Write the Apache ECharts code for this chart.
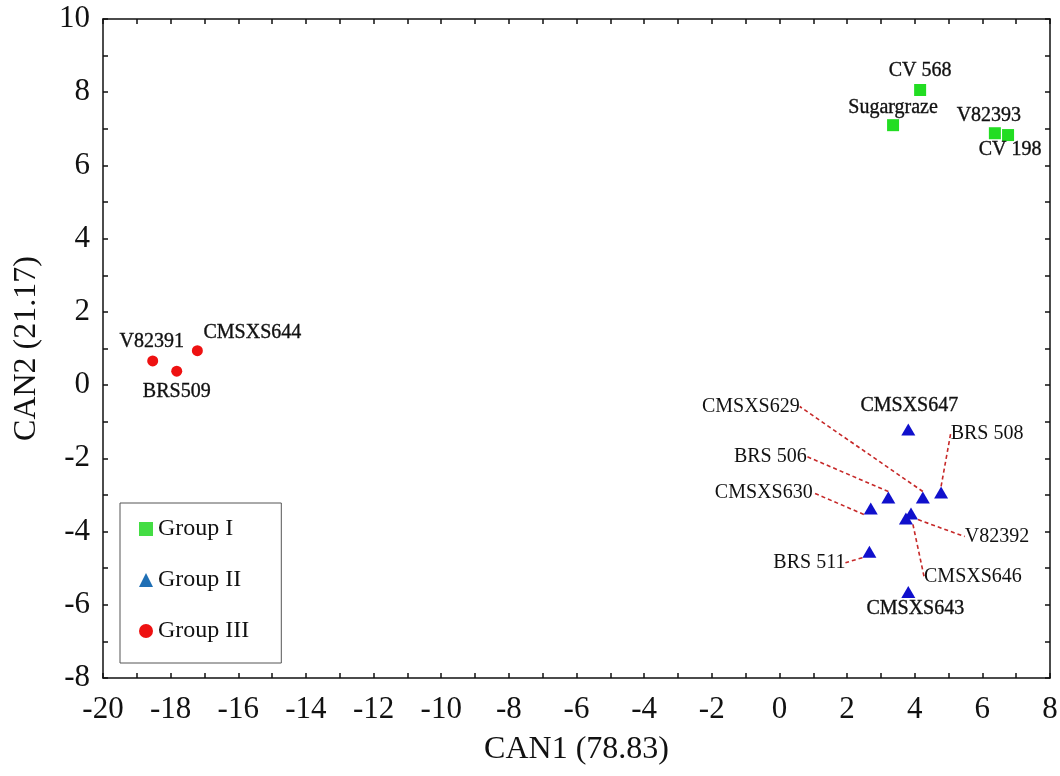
<!DOCTYPE html>
<html>
<head>
<meta charset="utf-8">
<script src="https://cdn.jsdelivr.net/npm/echarts@6/dist/echarts.min.js"></script>
<style>
html,body{margin:0;padding:0;background:#fff;}
#chart{width:1060px;height:776px;}
</style>
</head>
<body>
<div id="chart"></div>
<script>
// ---- Data ----
const groupINames = ['CV 568', 'Sugargraze', 'V82393', 'CV 198'];
const groupIX = [4.16, 3.36, 6.37, 6.76];
const groupIY = [8.06, 7.10, 6.88, 6.83];

const groupIINames = ['CMSXS647', 'CMSXS629', 'BRS 508', 'BRS 506', 'CMSXS630', 'V82392', 'CMSXS646', 'BRS 511', 'CMSXS643'];
const groupIIX = [3.81, 4.24, 4.78, 3.22, 2.70, 3.89, 3.74, 2.66, 3.81];
const groupIIY = [-1.21, -3.07, -2.93, -3.07, -3.37, -3.51, -3.64, -4.55, -5.65];

const groupIIINames = ['V82391', 'BRS509', 'CMSXS644'];
const groupIIIX = [-18.53, -17.82, -17.21];
const groupIIIY = [0.66, 0.38, 0.94];

const seriesNames = ['Group I', 'Group II', 'Group III'];
const xTitle = 'CAN1 (78.83)';
const yTitle = 'CAN2 (21.17)';
const xRange = [-20, 8];
const yRange = [-8, 10];

// ---- Label placement (pixel offsets of label centre from its point) ----
const labelPlacement = {
  'CV 568': { d: [0, -19], strong: true },
  'Sugargraze': { d: [0, -17], strong: true },
  'V82393': { d: [-6, -17], strong: true },
  'CV 198': { d: [2, 15], strong: true },
  'V82391': { d: [-1, -19], strong: true },
  'BRS509': { d: [0, 21], strong: true },
  'CMSXS644': { d: [55, -18], strong: true },
  'CMSXS647': { d: [1, -24], strong: true },
  'CMSXS629': { d: [-172, -91], line: true },
  'BRS 508': { d: [46, -59], line: true },
  'BRS 506': { d: [-118, -41], line: true },
  'CMSXS630': { d: [-107, -16], line: true },
  'V82392': { d: [86, 23], line: true },
  'CMSXS646': { d: [67, 58], line: true },
  'BRS 511': { d: [-60, 11], line: true },
  'CMSXS643': { d: [7, 17], strong: true }
};

function buildData(names, xs, ys) {
  return names.map(function (n, i) {
    const p = labelPlacement[n] || { d: [0, -18] };
    const item = { name: n, value: [xs[i], ys[i]] };
    if (p.line) {
      item.labelLine = { show: true, lineStyle: { color: '#c62828', width: 1.6, type: [4, 3], opacity: 1 } };
    }
    if (p.strong) {
      item.label = { textBorderColor: '#111', textBorderWidth: 0.35 };
    }
    return item;
  });
}

const allSeriesNames = [groupINames, groupIINames, groupIIINames];

function labelLayoutFn(params) {
  const names = allSeriesNames[params.seriesIndex];
  const n = names[params.dataIndex];
  const p = labelPlacement[n] || { d: [0, -18] };
  return {
    x: params.rect.x + params.rect.width / 2 + p.d[0],
    y: params.rect.y + params.rect.height / 2 + p.d[1],
    align: 'center',
    verticalAlign: 'middle'
  };
}

const font = 'Liberation Serif';
const labelBase = {
  show: true,
  formatter: '{b}',
  fontFamily: font,
  fontSize: 20,
  color: '#111',
  opacity: 1
};

const chart = echarts.init(document.getElementById('chart'), null, { renderer: 'canvas' });

function evenLabel(v) { return (v % 2 === 0) ? String(v) : ''; }

const axisCommonLine = { show: true, onZero: false, lineStyle: { color: '#111', width: 1.5 } };
const tickInside = { show: true, inside: true, length: 5, lineStyle: { color: '#111', width: 1.5 } };

chart.setOption({
  animation: false,
  backgroundColor: '#fff',
  grid: { left: 103, right: 10, top: 19, bottom: 98, containLabel: false, outerBoundsMode: 'none' },
  legend: {
    orient: 'vertical',
    left: 120,
    top: 503,
    padding: [14, 32, 20, 19],
    itemGap: 27,
    itemWidth: 14,
    itemHeight: 14,
    borderColor: '#555',
    borderWidth: 1,
    textStyle: { fontFamily: font, fontSize: 24, color: '#111' },
    data: [
      { name: seriesNames[0], icon: 'rect', itemStyle: { color: '#44dd44', opacity: 1 } },
      { name: seriesNames[1], icon: 'triangle', itemStyle: { color: '#1f6fb5', opacity: 1 } },
      { name: seriesNames[2], icon: 'circle', itemStyle: { color: '#ee1111', opacity: 1 } }
    ]
  },
  xAxis: [
    {
      type: 'value', min: xRange[0], max: xRange[1], interval: 1,
      position: 'bottom',
      name: xTitle, nameLocation: 'middle', nameGap: 56,
      nameTextStyle: { fontFamily: font, fontSize: 32, color: '#111' },
      axisLine: axisCommonLine, axisTick: tickInside,
      axisLabel: { formatter: evenLabel, fontFamily: font, fontSize: 31, color: '#111', margin: 16 },
      splitLine: { show: false }
    },
    {
      type: 'value', min: xRange[0], max: xRange[1], interval: 1,
      position: 'top',
      axisLine: axisCommonLine, axisTick: tickInside,
      axisLabel: { show: false }, splitLine: { show: false }
    }
  ],
  yAxis: [
    {
      type: 'value', min: yRange[0], max: yRange[1], interval: 1,
      position: 'left',
      name: yTitle, nameLocation: 'middle', nameGap: 60, nameRotate: 90,
      nameTextStyle: { fontFamily: font, fontSize: 32, color: '#111' },
      axisLine: axisCommonLine, axisTick: tickInside,
      axisLabel: { formatter: evenLabel, fontFamily: font, fontSize: 31, color: '#111', margin: 13 },
      splitLine: { show: false }
    },
    {
      type: 'value', min: yRange[0], max: yRange[1], interval: 1,
      position: 'right',
      axisLine: axisCommonLine, axisTick: tickInside,
      axisLabel: { show: false }, splitLine: { show: false }
    }
  ],
  series: [
    {
      name: seriesNames[0], type: 'scatter', symbol: 'rect', symbolSize: 12,
      itemStyle: { color: '#22dd22', opacity: 1 },
      data: buildData(groupINames, groupIX, groupIY),
      label: labelBase, labelLine: { show: false }, labelLayout: labelLayoutFn
    },
    {
      name: seriesNames[1], type: 'scatter', symbol: 'triangle', symbolSize: [14, 12],
      itemStyle: { color: '#1010cc', opacity: 1 },
      data: buildData(groupIINames, groupIIX, groupIIY),
      label: labelBase, labelLine: { show: false }, labelLayout: labelLayoutFn
    },
    {
      name: seriesNames[2], type: 'scatter', symbol: 'circle', symbolSize: 11,
      itemStyle: { color: '#ee1111', opacity: 1 },
      data: buildData(groupIIINames, groupIIIX, groupIIIY),
      label: labelBase, labelLine: { show: false }, labelLayout: labelLayoutFn
    }
  ]
});
</script>
</body>
</html>
